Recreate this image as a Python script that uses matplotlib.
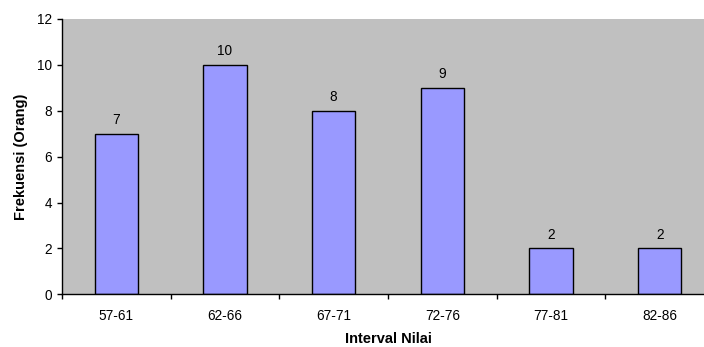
import numpy as np
import matplotlib.pyplot as plt

# data
intervals = ['57-61', '62-66', '67-71', '72-76', '77-81', '82-86']
frekuensi = [7, 10, 8, 9, 2, 2]

plt.rcParams['font.family'] = ['Liberation Sans', 'DejaVu Sans']

fig = plt.figure(figsize=(7.04, 3.47), dpi=100)
# plot area runs past the right edge of the picture, like the original
ax = fig.add_axes([62 / 704, 52.7 / 347, 652 / 704, 275.3 / 347])
ax.set_facecolor('#C0C0C0')

x = np.arange(len(intervals))
bars = ax.bar(x, frekuensi, width=0.4, color='#9999FF', edgecolor='black', linewidth=1.0)

for xi, v in zip(x, frekuensi):
    ax.annotate(str(v), (xi, v), xytext=(0, 7), textcoords='offset points',
                ha='center', va='baseline', fontsize=9.8)

ax.set_xlim(-0.5, len(intervals) - 0.5)
ax.set_ylim(0, 12)
ax.set_yticks(np.arange(0, 13, 2))

# ticks between categories, labels under the bars
ax.set_xticks(np.arange(-0.5, len(intervals), 1.0))
ax.set_xticklabels([])
ax.set_xticks(x, minor=True)
ax.set_xticklabels(intervals, minor=True)
ax.tick_params(axis='x', which='major', direction='out', length=3.5, width=1)
ax.tick_params(axis='x', which='minor', length=0, pad=10.5, labelsize=9.8)
ax.tick_params(axis='y', direction='out', length=3.5, width=1, pad=3.5, labelsize=9.8)

for s in ['top', 'right']:
    ax.spines[s].set_visible(False)
for s in ['left', 'bottom']:
    ax.spines[s].set_linewidth(1)

ax.set_xlabel('Interval Nilai', fontsize=10.5, fontweight='bold')
ax.xaxis.set_label_coords(326 / 652, -0.1624)
ax.xaxis.label.set_verticalalignment('center')
ax.set_ylabel('Frekuensi (Orang)', fontsize=10.5, fontweight='bold')
ax.yaxis.set_label_coords(-0.0529, 0.5)

fig.savefig('out.png', dpi=100)
